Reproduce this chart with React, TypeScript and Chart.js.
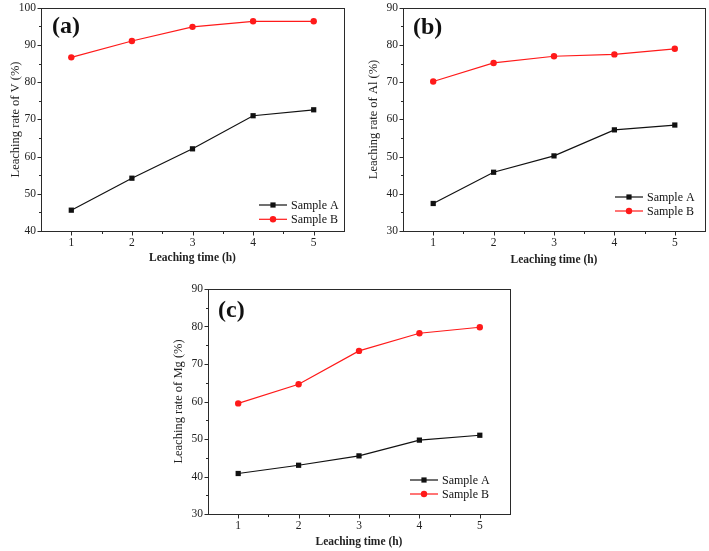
import React, { useEffect, useRef } from 'react';
import { Chart, registerables } from 'chart.js';

Chart.register(...registerables);

// ---- data ----
const hours = [1, 2, 3, 4, 5];
const seriesNames = ['Sample A', 'Sample B'];

const vSampleA = [45.6, 54.2, 62.1, 71.0, 72.6];
const vSampleB = [86.7, 91.1, 94.9, 96.4, 96.4];

const alSampleA = [37.4, 45.8, 50.2, 57.2, 58.5];
const alSampleB = [70.2, 75.2, 77.0, 77.5, 79.0];

const mgSampleA = [40.8, 43.0, 45.5, 49.7, 51.0];
const mgSampleB = [59.5, 64.6, 73.5, 78.2, 79.8];

const xTicks = [1, 2, 3, 4, 5];
const xMinorTicks = [1.5, 2.5, 3.5, 4.5];
const vTicks = [40, 50, 60, 70, 80, 90, 100];
const vMinorTicks = [45, 55, 65, 75, 85, 95];
const alTicks = [30, 40, 50, 60, 70, 80, 90];
const alMinorTicks = [35, 45, 55, 65, 75, 85];
const mgTicks = [30, 40, 50, 60, 70, 80, 90];
const mgMinorTicks = [35, 45, 55, 65, 75, 85];

const FONT = '"Liberation Serif", "Times New Roman", serif';
const COLOR_A = '#111111';
const COLOR_B = '#ff1a1a';
const AXIS = '#2a2a2a';

type PanelProps = {
  box: { left: number; top: number; width: number; height: number };
  pad: { top: number; right: number };
  yWidth: number;
  xHeight: number;
  yMin: number;
  yMax: number;
  yTicks: number[];
  yMinor: number[];
  a: number[];
  b: number[];
  yTitle: string;
  yTitlePad: number;
  xTitlePad: number;
  label: string;
  labelPos: { x: number; y: number };
  legendPos: { x: number; y: number; dy: number };
};

function Panel(p: PanelProps) {
  const ref = useRef<HTMLCanvasElement | null>(null);
  useEffect(() => {
    if (!ref.current) return;
    const ox = p.box.left;
    const oy = p.box.top;
    const deco = {
      id: 'deco',
      afterDraw(chart: any) {
        const ctx = chart.ctx as CanvasRenderingContext2D;
        const ca = chart.chartArea;
        const xs = chart.scales.x;
        const ys = chart.scales.y;
        ctx.save();
        ctx.strokeStyle = AXIS;
        ctx.lineWidth = 1;
        const L = Math.round(ca.left) + 0.5;
        const R = Math.round(ca.right) + 0.5;
        const T = Math.round(ca.top) + 0.5;
        const B = Math.round(ca.bottom) + 0.5;
        ctx.strokeRect(L, T, R - L, B - T);
        ctx.beginPath();
        xTicks.forEach((v) => {
          const px = Math.round(xs.getPixelForValue(v)) + 0.5;
          ctx.moveTo(px, B);
          ctx.lineTo(px, B + 4);
        });
        xMinorTicks.forEach((v) => {
          const px = Math.round(xs.getPixelForValue(v)) + 0.5;
          ctx.moveTo(px, B);
          ctx.lineTo(px, B + 2.5);
        });
        p.yTicks.forEach((v) => {
          const py = Math.round(ys.getPixelForValue(v)) + 0.5;
          ctx.moveTo(L, py);
          ctx.lineTo(L - 4, py);
        });
        p.yMinor.forEach((v) => {
          const py = Math.round(ys.getPixelForValue(v)) + 0.5;
          ctx.moveTo(L, py);
          ctx.lineTo(L - 2.5, py);
        });
        ctx.stroke();

        // panel label
        ctx.fillStyle = '#111';
        ctx.font = `bold 24px ${FONT}`;
        ctx.textBaseline = 'middle';
        ctx.textAlign = 'left';
        ctx.fillText(p.label, p.labelPos.x - ox, p.labelPos.y - oy);

        // legend
        const lx = p.legendPos.x - ox;
        chart.data.datasets.forEach((ds: any, i: number) => {
          const ly = p.legendPos.y - oy + i * p.legendPos.dy;
          ctx.strokeStyle = ds.borderColor;
          ctx.lineWidth = 1.2;
          ctx.beginPath();
          ctx.moveTo(lx, ly);
          ctx.lineTo(lx + 28, ly);
          ctx.stroke();
          ctx.fillStyle = ds.borderColor;
          ctx.beginPath();
          if (ds.pointStyle === 'rect') {
            ctx.rect(lx + 14 - 2.6, ly - 2.6, 5.2, 5.2);
          } else {
            ctx.arc(lx + 14, ly, 3.2, 0, Math.PI * 2);
          }
          ctx.fill();
          ctx.fillStyle = '#111';
          ctx.font = `12px ${FONT}`;
          ctx.fillText(ds.label, lx + 32, ly + 0.5);
        });
        ctx.restore();
      },
    };

    const chart = new Chart(ref.current, {
      type: 'line',
      data: {
        labels: hours,
        datasets: [
          {
            label: seriesNames[0],
            data: hours.map((h, i) => ({ x: h, y: p.a[i] })),
            borderColor: COLOR_A,
            backgroundColor: COLOR_A,
            borderWidth: 1.2,
            pointStyle: 'rect',
            pointRadius: 3.7,
            pointBorderWidth: 0,
          },
          {
            label: seriesNames[1],
            data: hours.map((h, i) => ({ x: h, y: p.b[i] })),
            borderColor: COLOR_B,
            backgroundColor: COLOR_B,
            borderWidth: 1.2,
            pointStyle: 'circle',
            pointRadius: 3.2,
            pointBorderWidth: 0,
          },
        ],
      },
      options: {
        animation: false,
        responsive: false,
        maintainAspectRatio: false,
        layout: { padding: { top: p.pad.top, right: p.pad.right, left: 0, bottom: 0 } },
        plugins: { legend: { display: false }, tooltip: { enabled: false } },
        scales: {
          x: {
            type: 'linear',
            min: 0.5,
            max: 5.5,
            afterBuildTicks: (s: any) => {
              s.ticks = xTicks.map((v) => ({ value: v }));
            },
            afterFit: (s: any) => {
              s.height = p.xHeight;
            },
            grid: { display: true, drawOnChartArea: false, drawTicks: true, tickLength: 4, color: 'rgba(0,0,0,0)' },
            border: { display: false },
            ticks: {
              padding: 1,
              color: '#222',
              font: { family: FONT, size: 11.5 },
              maxRotation: 0,
              callback: (v: any) => String(v),
            },
            title: {
              display: true,
              text: 'Leaching time (h)',
              color: '#222',
              font: { family: FONT, size: 11.5, weight: 'bold' },
              padding: { top: 0, bottom: p.xTitlePad },
            },
          },
          y: {
            type: 'linear',
            min: p.yMin,
            max: p.yMax,
            afterBuildTicks: (s: any) => {
              s.ticks = p.yTicks.map((v) => ({ value: v }));
            },
            afterFit: (s: any) => {
              s.width = p.yWidth;
            },
            grid: { display: true, drawOnChartArea: false, drawTicks: true, tickLength: 4, color: 'rgba(0,0,0,0)' },
            border: { display: false },
            ticks: {
              padding: 1,
              color: '#222',
              font: { family: FONT, size: 11.5 },
              callback: (v: any) => String(v),
            },
            title: {
              display: true,
              text: p.yTitle,
              color: '#222',
              font: { family: FONT, size: 12.5 },
              padding: { top: p.yTitlePad, bottom: 0 },
            },
          },
        },
      },
      plugins: [deco],
    } as any);
    return () => chart.destroy();
  }, []);

  return (
    <canvas
      ref={ref}
      width={p.box.width}
      height={p.box.height}
      style={{
        position: 'absolute',
        left: p.box.left,
        top: p.box.top,
        width: p.box.width,
        height: p.box.height,
      }}
    />
  );
}

export default function App() {
  return (
    <div
      style={{
        position: 'absolute',
        left: 0,
        top: 0,
        width: 709,
        height: 551,
        background: '#ffffff',
        overflow: 'hidden',
      }}
    >
      <Panel
        box={{ left: 0, top: 0, width: 354, height: 270 }}
        pad={{ top: 5, right: 10 }}
        yWidth={41}
        xHeight={39}
        yMin={40}
        yMax={100}
        yTicks={vTicks}
        yMinor={vMinorTicks}
        a={vSampleA}
        b={vSampleB}
        yTitle="Leaching rate of V (%)"
        yTitlePad={8}
        xTitlePad={5}
        label="(a)"
        labelPos={{ x: 52, y: 27 }}
        legendPos={{ x: 259, y: 205, dy: 14.3 }}
      />
      <Panel
        box={{ left: 354, top: 0, width: 355, height: 270 }}
        pad={{ top: 6, right: 3 }}
        yWidth={49}
        xHeight={39}
        yMin={30}
        yMax={90}
        yTicks={alTicks}
        yMinor={alMinorTicks}
        a={alSampleA}
        b={alSampleB}
        yTitle="Leaching rate of Al (%)"
        yTitlePad={12.5}
        xTitlePad={3}
        label="(b)"
        labelPos={{ x: 413, y: 28 }}
        legendPos={{ x: 615, y: 197, dy: 14 }}
      />
      <Panel
        box={{ left: 170, top: 270, width: 350, height: 281 }}
        pad={{ top: 19, right: 10 }}
        yWidth={38}
        xHeight={37}
        yMin={30}
        yMax={90}
        yTicks={mgTicks}
        yMinor={mgMinorTicks}
        a={mgSampleA}
        b={mgSampleB}
        yTitle="Leaching rate of Mg (%)"
        yTitlePad={1}
        xTitlePad={1.6}
        label="(c)"
        labelPos={{ x: 218, y: 311 }}
        legendPos={{ x: 410, y: 480, dy: 14 }}
      />
    </div>
  );
}
